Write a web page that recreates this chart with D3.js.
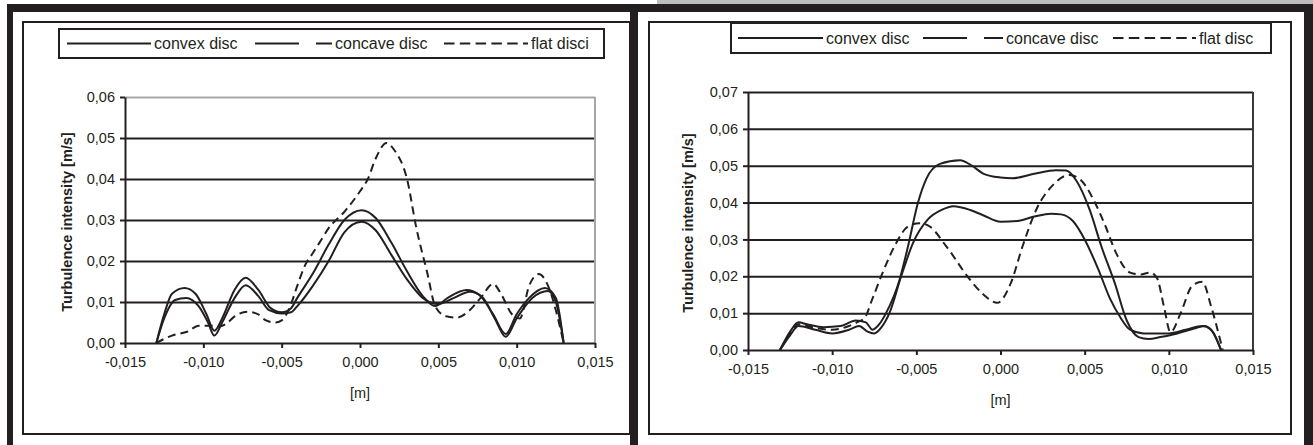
<!DOCTYPE html>
<html>
<head>
<meta charset="utf-8">
<script src="https://cdn.jsdelivr.net/npm/d3@7"></script>
<style>
    body { margin: 0; background: #fff; }
    svg { display: block; font-family: "Liberation Sans", Arial, sans-serif; }
</style>
</head>
<body>
<svg id="chart" width="1313" height="445"></svg>
<script>
// tick values
const xTicks = [-0.015, -0.010, -0.005, 0, 0.005, 0.010, 0.015];
const leftYTicks = [0, 0.01, 0.02, 0.03, 0.04, 0.05, 0.06];
const rightYTicks = [0, 0.01, 0.02, 0.03, 0.04, 0.05, 0.06, 0.07];

const legendLeft = ["convex disc", "concave disc", "flat disci"];
const legendRight = ["convex disc", "concave disc", "flat disc"];

// left chart, [x, turbulence]
const leftConvex = [[-0.013, 0], [-0.0125, 0.007], [-0.012, 0.012], [-0.0112, 0.0134], [-0.0105, 0.012],
    [-0.0098, 0.007], [-0.0093, 0.003], [-0.0088, 0.006], [-0.008, 0.013], [-0.0073, 0.0159],
    [-0.0065, 0.013], [-0.0057, 0.0085], [-0.005, 0.0075], [-0.0044, 0.0085], [-0.004, 0.011],
    [-0.003, 0.017], [-0.002, 0.024], [-0.001, 0.030], [0.0001, 0.0324], [0.001, 0.0305],
    [0.002, 0.0245], [0.003, 0.0175], [0.004, 0.0115], [0.0048, 0.009], [0.0056, 0.011],
    [0.0068, 0.0129], [0.0076, 0.0118], [0.0085, 0.007], [0.0093, 0.0022], [0.0100, 0.007],
    [0.0108, 0.011], [0.0118, 0.0134], [0.0125, 0.011], [0.013, 0]];
const leftConcave = [[-0.013, 0], [-0.0125, 0.006], [-0.0118, 0.0105], [-0.0111, 0.011], [-0.0103, 0.009],
    [-0.0097, 0.005], [-0.0093, 0.0018], [-0.0088, 0.005], [-0.008, 0.011], [-0.0073, 0.0141],
    [-0.0065, 0.0115], [-0.0058, 0.008], [-0.005, 0.0072], [-0.0044, 0.0075], [-0.004, 0.009],
    [-0.003, 0.014], [-0.002, 0.020], [-0.001, 0.027], [0.0001, 0.0296], [0.001, 0.0275],
    [0.002, 0.0215], [0.003, 0.0155], [0.004, 0.011], [0.005, 0.0095], [0.006, 0.011],
    [0.007, 0.0125], [0.0078, 0.0112], [0.0086, 0.006], [0.0093, 0.0015], [0.0100, 0.006],
    [0.011, 0.011], [0.012, 0.0127], [0.0125, 0.010], [0.013, 0]];
const leftFlat = [[-0.013, 0], [-0.0125, 0.001], [-0.012, 0.0018], [-0.011, 0.0028], [-0.0103, 0.0042],
    [-0.0095, 0.0042], [-0.009, 0.004], [-0.0085, 0.0048], [-0.008, 0.0065], [-0.0072, 0.0076],
    [-0.0065, 0.007], [-0.006, 0.0055], [-0.0054, 0.005], [-0.005, 0.0055], [-0.0045, 0.0085],
    [-0.004, 0.014], [-0.0035, 0.019], [-0.003, 0.022], [-0.0025, 0.025], [-0.002, 0.028],
    [-0.001, 0.032], [0, 0.037], [0.0005, 0.040], [0.001, 0.045], [0.0017, 0.0488],
    [0.0022, 0.047], [0.003, 0.040], [0.0036, 0.028], [0.0043, 0.017], [0.0048, 0.009],
    [0.0055, 0.0065], [0.0062, 0.0062], [0.007, 0.008], [0.0077, 0.011], [0.0085, 0.0144],
    [0.009, 0.012], [0.0097, 0.007], [0.0102, 0.006], [0.0108, 0.014], [0.0114, 0.0168],
    [0.012, 0.014], [0.0125, 0.008], [0.013, 0]];

// right chart
const rightConvex = [[-0.0131, 0], [-0.0125, 0.005], [-0.012, 0.0075], [-0.0115, 0.007], [-0.0105, 0.0062],
    [-0.0095, 0.0065], [-0.0086, 0.008], [-0.008, 0.0075], [-0.0076, 0.0055], [-0.0072, 0.007],
    [-0.0068, 0.010], [-0.006, 0.019], [-0.0055, 0.028], [-0.0049, 0.040], [-0.0044, 0.0465],
    [-0.0036, 0.0505], [-0.0024, 0.0515], [-0.0017, 0.050], [-0.001, 0.0478], [0, 0.0468],
    [0.0007, 0.0466], [0.002, 0.0478], [0.0033, 0.0488], [0.0039, 0.0487], [0.0045, 0.046],
    [0.0053, 0.038], [0.006, 0.028], [0.0068, 0.018], [0.0075, 0.008], [0.0082, 0.0035],
    [0.0088, 0.003], [0.0095, 0.0035], [0.0105, 0.0045], [0.0115, 0.0058], [0.0121, 0.0065],
    [0.0126, 0.005], [0.0131, 0]];
const rightConcave = [[-0.0131, 0], [-0.0125, 0.004], [-0.012, 0.0065], [-0.011, 0.0055], [-0.010, 0.0045],
    [-0.009, 0.0055], [-0.0084, 0.0065], [-0.0079, 0.005], [-0.0075, 0.0045], [-0.0071, 0.006],
    [-0.0066, 0.010], [-0.0059, 0.020], [-0.0052, 0.029], [-0.0043, 0.0355], [-0.0035, 0.038],
    [-0.0028, 0.039], [-0.0018, 0.038], [-0.001, 0.0365], [0, 0.0348], [0.001, 0.035],
    [0.002, 0.0362], [0.003, 0.037], [0.0036, 0.0368], [0.0043, 0.035], [0.005, 0.030],
    [0.0058, 0.022], [0.0065, 0.014], [0.0071, 0.009], [0.0077, 0.0055], [0.0085, 0.0045],
    [0.0092, 0.0045], [0.010, 0.0045], [0.011, 0.0055], [0.012, 0.0065], [0.0125, 0.0055],
    [0.0131, 0]];
const rightFlat = [[-0.0131, 0], [-0.0125, 0.0045], [-0.012, 0.007], [-0.011, 0.006], [-0.010, 0.0055],
    [-0.009, 0.0065], [-0.0084, 0.0078], [-0.0081, 0.0085], [-0.0076, 0.014], [-0.007, 0.021],
    [-0.0062, 0.029], [-0.0055, 0.0335], [-0.0048, 0.0344], [-0.0042, 0.0335], [-0.0032, 0.028],
    [-0.0018, 0.019], [-0.001, 0.015], [-0.0002, 0.0128], [0.0006, 0.018], [0.0013, 0.028],
    [0.0022, 0.0388], [0.003, 0.0442], [0.0041, 0.0475], [0.0048, 0.046], [0.0055, 0.041],
    [0.0062, 0.034], [0.0069, 0.026], [0.0077, 0.021], [0.0083, 0.0205], [0.0089, 0.021],
    [0.0093, 0.0195], [0.0097, 0.012], [0.0101, 0.0048], [0.0107, 0.010], [0.0114, 0.0175],
    [0.012, 0.0185], [0.0125, 0.012], [0.0132, 0]];

const INK = "#231f20";
const svg = d3.select("#chart");

// comma decimals like the original spreadsheet
const commaFmt = f => v => d3.format(f)(v).replace("\u2212", "-").replace(".", ",");

// outer frame
svg.append("rect").attr("x", 657).attr("y", 0).attr("width", 656).attr("height", 4).attr("fill", "#bdbdbd");
svg.append("rect").attr("x", 7).attr("y", 4).attr("width", 1306).attr("height", 8).attr("fill", INK);
svg.append("rect").attr("x", 7).attr("y", 4).attr("width", 6).attr("height", 441).attr("fill", INK);
svg.append("rect").attr("x", 630).attr("y", 4).attr("width", 8).attr("height", 441).attr("fill", INK);
svg.append("rect").attr("x", 1304).attr("y", 4).attr("width", 9).attr("height", 441).attr("fill", INK);
svg.append("rect").attr("x", 23).attr("y", 22).attr("width", 607).attr("height", 412)
    .attr("fill", "none").attr("stroke", INK).attr("stroke-width", 2);
svg.append("rect").attr("x", 649).attr("y", 22).attr("width", 642).attr("height", 412)
    .attr("fill", "none").attr("stroke", INK).attr("stroke-width", 2);

function drawChart(cfg) {
    let x = d3.scaleLinear().domain([-0.015, 0.015]).range([cfg.x0, cfg.x1]);
    let y = d3.scaleLinear().domain([0, cfg.ymax]).range([cfg.y0, cfg.y1]);
    let g = svg.append("g");

    // gridlines
    let grid = g.append("g")
        .attr("transform", "translate(" + cfg.x0 + ",0)")
        .call(d3.axisLeft(y).tickValues(cfg.yTicks.slice(1)).tickSize(-(cfg.x1 - cfg.x0)).tickFormat(""));
    grid.select(".domain").remove();
    grid.selectAll(".tick line").attr("stroke", INK).attr("stroke-width", 2);
    grid.selectAll(".tick:last-of-type line").attr("stroke", cfg.topColor);

    // plot area right edge
    g.append("line")
        .attr("x1", cfg.x1).attr("x2", cfg.x1)
        .attr("y1", y(cfg.ymax)).attr("y2", cfg.y0)
        .attr("stroke", cfg.edgeColor).attr("stroke-width", 2);

    // axes
    let yAxis = g.append("g")
        .attr("transform", "translate(" + cfg.x0 + ",0)")
        .call(d3.axisLeft(y).tickValues(cfg.yTicks).tickSize(5).tickSizeOuter(0).tickPadding(5)
            .tickFormat(commaFmt(".2f")));
    let xAxis = g.append("g")
        .attr("transform", "translate(0," + cfg.y0 + ")")
        .call(d3.axisBottom(x).tickValues(xTicks).tickSize(5).tickSizeOuter(0).tickPadding(9)
            .tickFormat(commaFmt(".3f")));
    [xAxis, yAxis].forEach(a => {
        a.select(".domain").attr("stroke", INK).attr("stroke-width", 2);
        a.selectAll(".tick line").attr("stroke", INK).attr("stroke-width", 2);
        a.selectAll(".tick text").attr("fill", INK).style("font-size", "14.5px")
            .style("font-family", "'Liberation Sans', Arial, sans-serif");
    });

    // curves
    let line = d3.line()
        .x(d => x(d[0]))
        .y(d => y(d[1]))
        .curve(d3.curveMonotoneX);
    cfg.series.forEach(s => {
        g.append("path")
            .datum(s.data)
            .attr("fill", "none")
            .attr("stroke", INK)
            .attr("stroke-width", 2)
            .attr("stroke-linejoin", "round")
            .attr("stroke-dasharray", s.chartDash)
            .attr("d", line);
    });

    // axis titles
    g.append("text")
        .attr("x", (cfg.x0 + cfg.x1) / 2).attr("y", cfg.y0 + 55)
        .attr("text-anchor", "middle").attr("fill", INK).style("font-size", "14.5px")
        .text("[m]");
    g.append("text")
        .attr("transform", "translate(" + cfg.titleX + "," + ((cfg.y0 + cfg.y1) / 2 + 2) + ") rotate(-90)")
        .attr("text-anchor", "middle").attr("fill", INK)
        .style("font-size", "14.5px").style("font-weight", "bold")
        .text("Turbulence intensity [m/s]");

    // legend
    let lg = cfg.legend;
    g.append("rect")
        .attr("x", lg.x).attr("y", lg.y).attr("width", lg.w).attr("height", lg.h)
        .attr("fill", "#fff").attr("stroke", INK).attr("stroke-width", 2);
    let midY = lg.y + lg.h / 2;
    cfg.series.forEach((s, i) => {
        let it = lg.items[i];
        g.append("line")
            .attr("x1", it.l0).attr("x2", it.l1)
            .attr("y1", midY).attr("y2", midY)
            .attr("stroke", INK).attr("stroke-width", 2)
            .attr("stroke-dasharray", s.legendDash);
        g.append("text")
            .attr("x", it.l1 + 3).attr("y", midY + 5.5)
            .attr("fill", INK).style("font-size", "16px")
            .text(lg.labels[i]);
    });
}

drawChart({
    x0: 125, x1: 595, y0: 343, y1: 97, ymax: 0.06, yTicks: leftYTicks,
    topColor: "#a6a6a6", edgeColor: "#a6a6a6", titleX: 72,
    series: [
        {data: leftConvex, chartDash: null, legendDash: null},
        {data: leftConcave, chartDash: null, legendDash: "44,17"},
        {data: leftFlat, chartDash: "8,5", legendDash: "10.5,5.3"}
    ],
    legend: {
        x: 59, y: 29, w: 545, h: 29, labels: legendLeft,
        items: [{l0: 67, l1: 151}, {l0: 255, l1: 332}, {l0: 444, l1: 528}]
    }
});

drawChart({
    x0: 748, x1: 1253, y0: 350, y1: 92, ymax: 0.07, yTicks: rightYTicks,
    topColor: INK, edgeColor: "#3a3a3a", titleX: 693,
    series: [
        {data: rightConvex, chartDash: null, legendDash: null},
        {data: rightConcave, chartDash: null, legendDash: "44,17"},
        {data: rightFlat, chartDash: "8,5", legendDash: "10.5,5.3"}
    ],
    legend: {
        x: 731, y: 23, w: 540, h: 30, labels: legendRight,
        items: [{l0: 738, l1: 823}, {l0: 923, l1: 1003}, {l0: 1113, l1: 1196}]
    }
});
</script>
</body>
</html>
